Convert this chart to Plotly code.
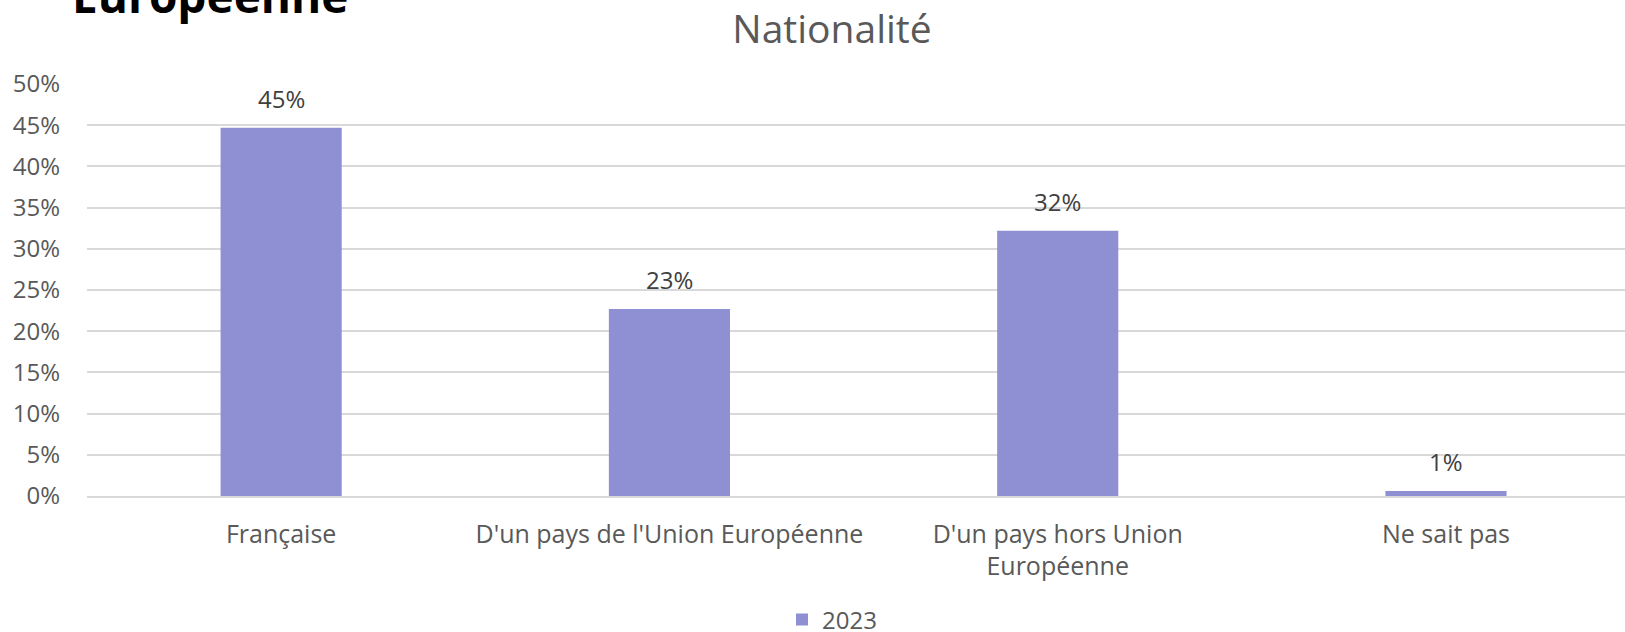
import plotly.graph_objects as go

categories = ["Française", "D'un pays de l'Union Européenne",
              "D'un pays hors Union<br>Européenne", "Ne sait pas"]
values_2023 = [0.447, 0.227, 0.322, 0.006]
y_ticks = [0, 0.05, 0.10, 0.15, 0.20, 0.25, 0.30, 0.35, 0.40, 0.45, 0.50]

font_family = "Open Sans"
text_gray = "#595959"

fig = go.Figure()
fig.add_trace(
    go.Bar(
        x=categories, y=values_2023, name="2023",
        marker=dict(color="#8f8fd4", line=dict(width=0)),
        width=0.312,
    )
)

# étiquettes de valeur au-dessus des barres
for cat, val in zip(categories, values_2023):
    fig.add_annotation(
        x=cat, y=val, text=f"{val:.0%}", showarrow=False,
        yanchor="bottom", yshift=11,
        font=dict(size=24, color="#404040", family=font_family),
    )

fig.update_layout(
    width=1625, height=632,
    margin=dict(l=87, r=0, t=83, b=136),
    plot_bgcolor="white", paper_bgcolor="white",
    font=dict(family=font_family, color=text_gray),
    title=dict(text="Nationalité", x=0.512, xref="container", xanchor="center",
               y=0.954, yref="container", yanchor="middle",
               font=dict(size=39, color=text_gray, family=font_family)),
    showlegend=True,
    legend=dict(orientation="h", x=0.512, xref="container", xanchor="center",
                y=0.019, yref="container", yanchor="middle",
                font=dict(size=24, color=text_gray)),
)
fig.update_yaxes(
    range=[0, 0.5012], tickvals=y_ticks, tickformat=".0%",
    showgrid=True, gridcolor="#d9d9d9", gridwidth=1.5,
    zeroline=False, showline=False,
    tickfont=dict(size=24, color=text_gray), ticklabelstandoff=26,
)
# la zone de tracé dépasse à droite : la dernière catégorie est un peu coupée
fig.update_xaxes(
    range=[-0.5, 3.461],
    showline=True, linecolor="#d9d9d9", linewidth=1.5,
    tickfont=dict(size=25, color=text_gray), ticklabelstandoff=15,
)

# morceau du titre principal coupé en haut
fig.add_annotation(
    text="<b>Européenne</b>", xref="paper", yref="paper",
    x=-0.011, y=1.133, xanchor="left", yanchor="bottom",
    showarrow=False, font=dict(size=46, color="black", family=font_family),
)

fig.write_html("out.html", config={"displayModeBar": False},
               post_script="document.body.style.margin='0px';")
